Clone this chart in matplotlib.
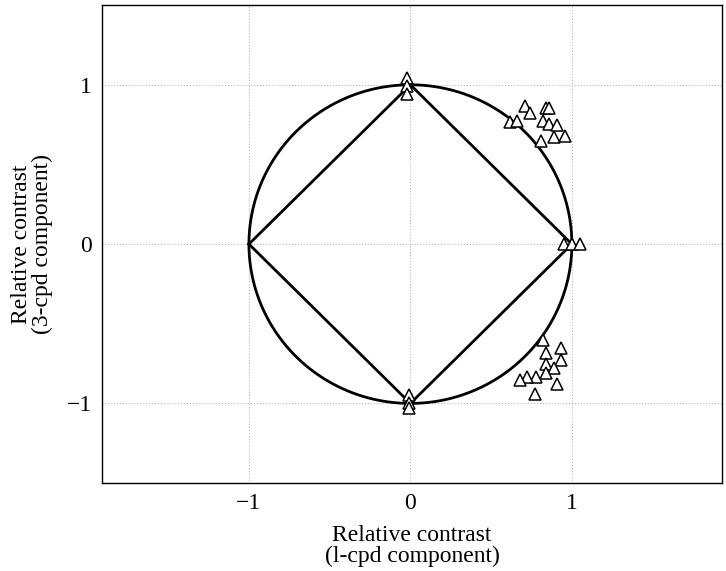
import numpy as np
import matplotlib
matplotlib.use("Agg")
import matplotlib.pyplot as plt

# triangle markers (1-cpd contrast, 3-cpd contrast)
top_x = [-0.02, -0.02, -0.02]
top_y = [1.04, 0.99, 0.94]
bot_x = [-0.01, -0.01, -0.01]
bot_y = [-0.95, -1.0, -1.03]
right_x = [0.95, 1.0, 1.05]
right_y = [0.0, 0.0, 0.0]
upper_x = [0.71, 0.74, 0.84, 0.86, 0.62, 0.66, 0.82, 0.86, 0.91, 0.89, 0.96, 0.81]
upper_y = [0.87, 0.82, 0.855, 0.855, 0.765, 0.77, 0.775, 0.755, 0.745, 0.67, 0.68, 0.645]
lower_x = [0.82, 0.93, 0.84, 0.93, 0.84, 0.89, 0.84, 0.78, 0.72, 0.68, 0.91, 0.77]
lower_y = [-0.60, -0.65, -0.685, -0.73, -0.755, -0.78, -0.81, -0.835, -0.835, -0.85, -0.88, -0.94]

# diamond vertices
dia_x = [-1, 0, 1, 0, -1]
dia_y = [0, 1, 0, -1, 0]

plt.rcParams['font.family'] = ['Liberation Serif', 'DejaVu Serif']

fig = plt.figure(figsize=(7.26, 5.71), dpi=100)
ax = fig.add_axes([0.1405, 0.154, 0.854, 0.837])

ax.grid(True, color="#aaaaaa", lw=0.7, ls=(0, (1, 2)))
ax.set_axisbelow(True)

t = np.linspace(0, 2 * np.pi, 400)
ax.plot(np.cos(t), np.sin(t), color="black", lw=2.0)
ax.plot(dia_x, dia_y, color="black", lw=2.0)

xs = top_x + bot_x + right_x + upper_x + lower_x
ys = top_y + bot_y + right_y + upper_y + lower_y
ax.plot(xs, ys, ls="none", marker="^", ms=8.5, mfc="white", mec="black", mew=1.1)

ax.set_xlim(-1.91, 1.93)
ax.set_ylim(-1.5, 1.5)
ax.set_xticks([-1, 0, 1])
ax.set_yticks([-1, 0, 1])
ax.set_xticklabels(["\u22121", "0", "1"])
ax.set_yticklabels(["\u22121", "0", "1"])
ax.tick_params(length=0, labelsize=17, pad=7)
for s in ax.spines.values():
    s.set_linewidth(1.0)

ax.set_xlabel("Relative contrast\n(l-cpd component)", fontsize=17, labelpad=8,
              linespacing=1.0)
ax.set_ylabel("Relative contrast\n(3-cpd component)", fontsize=17, labelpad=10,
              linespacing=1.0)

fig.savefig("out.png", dpi=100)
